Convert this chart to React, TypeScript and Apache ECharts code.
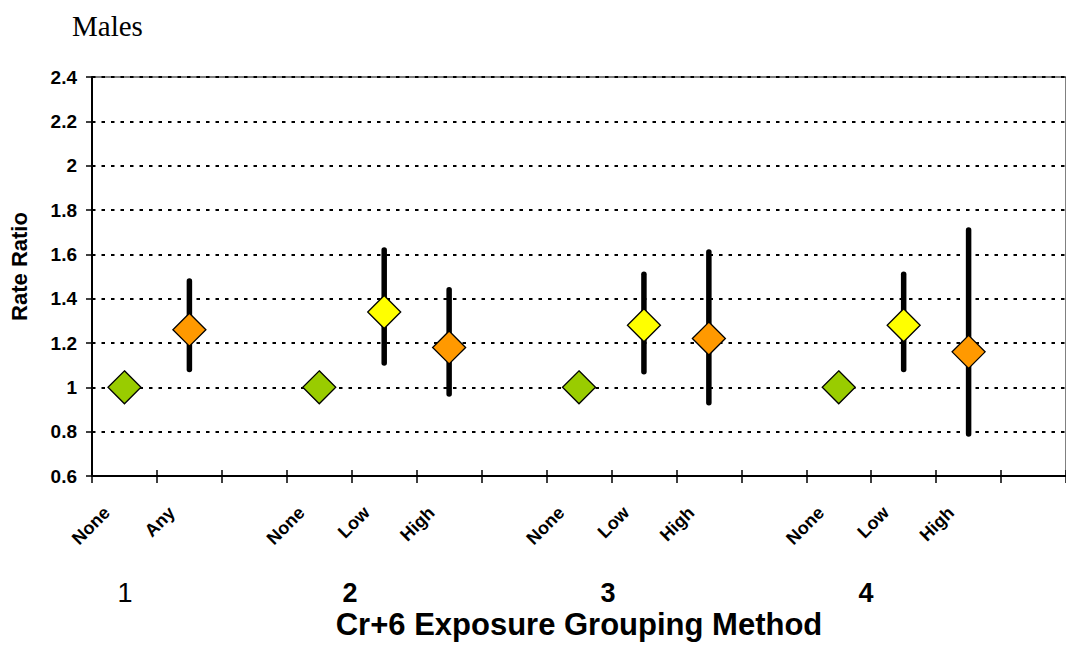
import React, { useEffect, useRef } from "react";
import * as echarts from "echarts";

const categories = ["None", "Any", "", "None", "Low", "High", "", "None", "Low", "High", "", "None", "Low", "High", ""];
const exposureLevel = ["None", "Any", "", "None", "Low", "High", "", "None", "Low", "High", "", "None", "Low", "High", ""];
const rateRatio: (number | null)[] = [1, 1.26, null, 1, 1.34, 1.18, null, 1, 1.28, 1.22, null, 1, 1.28, 1.16, null];
const ciLow: (number | null)[] = [null, 1.08, null, null, 1.11, 0.97, null, null, 1.07, 0.93, null, null, 1.08, 0.79, null];
const ciHigh: (number | null)[] = [null, 1.48, null, null, 1.62, 1.44, null, null, 1.51, 1.61, null, null, 1.51, 1.71, null];
const groupLabels = ["1", "2", "3", "4"];
const yTicks = { min: 0.6, max: 2.4, interval: 0.2 };

const levelColor: Record<string, string> = {
  None: "#99CC00",
  Any: "#FF9900",
  Low: "#FFFF00",
  High: "#FF9900",
};

const SANS = "Arial, 'Liberation Sans', Helvetica, sans-serif";
const SERIF = "'Times New Roman', 'Liberation Serif', serif";

export default function App() {
  const ref = useRef<HTMLDivElement>(null);
  useEffect(() => {
    if (!ref.current) return;
    const chart = echarts.init(ref.current, null, { renderer: "svg" });

    const scatterData = rateRatio.map((v, i) =>
      v == null
        ? [i, null]
        : {
            value: [i, v],
            itemStyle: { color: levelColor[exposureLevel[i]] },
          }
    );
    const errData = ciLow
      .map((lo, i) => (lo == null || ciHigh[i] == null ? null : [i, lo, ciHigh[i]]))
      .filter((d) => d != null);

    const groupX = [125, 350, 608, 866];

    chart.setOption({
      animation: false,
      backgroundColor: "#ffffff",
      grid: {
        left: 90,
        top: 77,
        bottom: 173,
        right: -6,
        show: true,
        borderColor: "#000",
        borderWidth: 1,
      },
      xAxis: [
        {
          type: "category",
          data: categories,
          position: "bottom",
          boundaryGap: true,
          axisLine: { show: true, lineStyle: { color: "#000", width: 2 } },
          axisTick: { show: true, alignWithLabel: false, interval: 0, length: 7, lineStyle: { color: "#000", width: 1.5 } },
          axisLabel: {
            interval: 0,
            rotate: 45,
            margin: 16,
            padding: [0, 25, 0, 0],
            color: "#000",
            fontFamily: SANS,
            fontWeight: "bold",
            fontSize: 18,
          },
          splitLine: { show: false },
          name: "Cr+6 Exposure Grouping Method",
          nameLocation: "middle",
          nameGap: 133,
          nameTextStyle: { color: "#000", fontFamily: SANS, fontWeight: "bold", fontSize: 31 },
        },
        {
          type: "category",
          data: categories,
          position: "bottom",
          boundaryGap: true,
          axisLine: { show: false },
          axisTick: { show: true, inside: true, interval: 0, length: 6, lineStyle: { color: "#000", width: 1.5 } },
          axisLabel: { show: false },
          splitLine: { show: false },
        },
      ],
      yAxis: {
        type: "value",
        min: yTicks.min,
        max: yTicks.max,
        interval: yTicks.interval,
        axisLine: { show: true, lineStyle: { color: "#000", width: 2 } },
        axisTick: { show: true, length: 6, lineStyle: { color: "#000", width: 1.5 } },
        axisLabel: {
          margin: 15,
          color: "#000",
          fontFamily: SANS,
          fontWeight: "bold",
          fontSize: 19,
          formatter: (v: number) => String(parseFloat(v.toFixed(1))),
        },
        splitLine: {
          show: true,
          lineStyle: { color: "#000", width: 2, type: [3.5, 6] },
        },
        name: "Rate Ratio",
        nameLocation: "middle",
        nameGap: 62,
        nameTextStyle: { color: "#000", fontFamily: SANS, fontWeight: "bold", fontSize: 22, padding: [0, 0, 0, 20] },
      },
      graphic: [
        {
          type: "text",
          left: 72,
          top: 11,
          style: { text: "Males", fill: "#000", font: `29px ${SERIF}` },
        },
        ...groupLabels.map((g, k) => ({
          type: "text",
          x: groupX[k],
          y: 593,
          style: {
            text: g,
            fill: "#000",
            font: `${k === 0 ? "normal" : "bold"} 27px ${SANS}`,
            textAlign: "center",
            textVerticalAlign: "middle",
          },
        })),
      ],
      series: [
        {
          type: "custom",
          xAxisIndex: 0,
          z: 2,
          data: errData,
          renderItem: (params: any, api: any) => {
            const p1 = api.coord([api.value(0), api.value(1)]);
            const p2 = api.coord([api.value(0), api.value(2)]);
            return {
              type: "line",
              shape: { x1: p1[0], y1: p1[1], x2: p2[0], y2: p2[1] },
              style: { stroke: "#000", lineWidth: 5.5, lineCap: "round" },
            };
          },
        },
        {
          type: "scatter",
          xAxisIndex: 0,
          z: 5,
          symbol: "diamond",
          symbolSize: 33,
          itemStyle: { borderColor: "#000", borderWidth: 1.3, opacity: 1 },
          data: scatterData,
        },
      ],
    });
    return () => chart.dispose();
  }, []);

  return (
    <div
      ref={ref}
      style={{ position: "fixed", left: 0, top: 0, width: 1066, height: 649, background: "#fff" }}
    />
  );
}
